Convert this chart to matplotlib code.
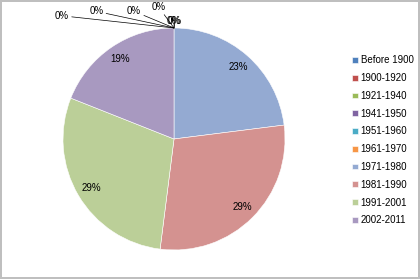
import matplotlib.pyplot as plt

labels = ['Before 1900', '1900-1920', '1921-1940', '1941-1950', '1951-1960',
          '1961-1970', '1971-1980', '1981-1990', '1991-2001', '2002-2011']
values = [0, 0, 0, 0, 0, 0, 23, 29, 29, 19]
colors = ['#4f81bd', '#c0504d', '#9bbb59', '#8064a2', '#4bacc6',
          '#f79646', '#94aad2', '#d49290', '#bbcf98', '#a899c0']
# where the "0%" labels sit (data units, pie radius = 1)
zero_pos = [(-1.01, 1.11), (-0.70, 1.15), (-0.36, 1.15), (-0.14, 1.19),
            (0.0, 1.06), (0.01, 1.06)]

plt.rcParams['font.family'] = ['Liberation Sans', 'DejaVu Sans']

fig = plt.figure(figsize=(4.2, 2.79), dpi=100)
fig.patch.set_edgecolor('#bfbfbf')
fig.patch.set_linewidth(1.5)
ax = fig.add_axes([0.15, 0.104, 0.5286, 0.7957])

def pct(p):
    return '%d%%' % round(p) if p > 0.5 else ''

wedges, texts, autotexts = ax.pie(values, colors=colors, startangle=90, counterclock=False,
                                  autopct=pct, pctdistance=0.87,
                                  wedgeprops=dict(edgecolor='white', linewidth=0.4),
                                  textprops=dict(fontsize=7))
ax.set_xlim(-1, 1)
ax.set_ylim(-1, 1)
ax.set_aspect('equal')

k = 0
for i, v in enumerate(values):
    if v == 0:
        x, y = zero_pos[k]
        ax.annotate('0%', xy=(0, 1), xytext=(x, y), fontsize=7, ha='center', va='center',
                    annotation_clip=False,
                    arrowprops=dict(arrowstyle='-', lw=0.5, color='black', shrinkA=0, shrinkB=0))
        k += 1

ax.legend(wedges, labels, loc='upper left', bbox_to_anchor=(0.818, 0.833),
          bbox_transform=fig.transFigure, frameon=False, fontsize=7,
          handlelength=0.55, handleheight=0.55, handletextpad=0.3, labelspacing=0.8)

fig.savefig('out.png', dpi=100)
